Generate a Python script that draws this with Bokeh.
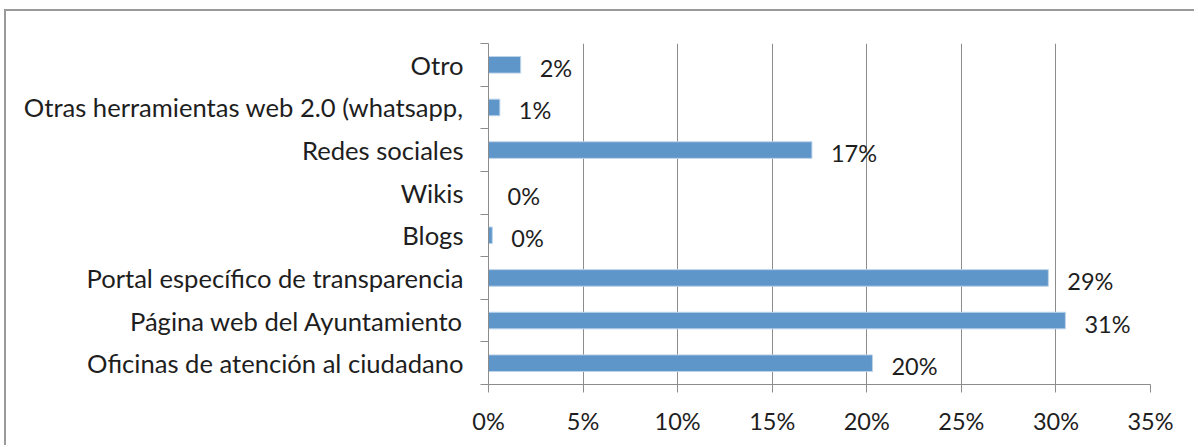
from bokeh.plotting import figure
from bokeh.models import Range1d, FixedTicker, PrintfTickFormatter
from bokeh.core.properties import value
from bokeh.embed import file_html
from bokeh.resources import INLINE

categories = [
    "Oficinas de atención al ciudadano",
    "Página web del Ayuntamiento",
    "Portal específico de transparencia",
    "Blogs",
    "Wikis",
    "Redes sociales",
    "Otras herramientas web 2.0 (whatsapp,",
    "Otro",
]
values = [20.3, 30.5, 29.6, 0.2, 0.0, 17.1, 0.6, 1.7]
labels = ["20%", "31%", "29%", "0%", "0%", "17%", "1%", "2%"]
x_ticks = [0, 5, 10, 15, 20, 25, 30, 35]

FONT = "Lato"
FS_CAT = "25.6px"
FS_NUM = "23.5px"
TXT = "#1e1e1e"
GRID = "#8c8c8c"

centers = [i + 0.5 for i in range(len(categories))]
bounds = list(range(len(categories) + 1))

p = figure(
    width=1190, height=436,
    x_range=Range1d(0, 35), y_range=Range1d(0, len(categories)),
    output_backend="svg", toolbar_location=None,
    min_border_left=482, min_border_right=46,
    min_border_top=32, min_border_bottom=63,
)
p.styles = {
    "border-top": "2px solid #9a9a9a",
    "border-left": "2px solid #9a9a9a",
    "margin-left": "4px",
    "margin-top": "9px",
}
p.outline_line_color = None
p.background_fill_color = "white"
p.border_fill_color = "white"

p.hbar(y=centers, right=values, left=0, height=0.39,
       fill_color="#5f96ca", line_color="#bcd3ea", line_width=1)
p.text(x=values, y=centers, text=labels, x_offset=19, y_offset=3,
       text_baseline="middle", text_align="left",
       text_font=value(FONT), text_font_size=FS_NUM, text_color=TXT)

# x axis
p.xaxis.ticker = FixedTicker(ticks=x_ticks)
p.xaxis.formatter = PrintfTickFormatter(format="%d%%")
p.xaxis.axis_line_color = GRID
p.xaxis.major_tick_line_color = GRID
p.xaxis.major_tick_out = 8
p.xaxis.major_tick_in = 0
p.xaxis.minor_tick_line_color = None
p.xaxis.major_label_standoff = 14
p.xaxis.major_label_text_font = FONT
p.xaxis.major_label_text_font_size = FS_NUM
p.xaxis.major_label_text_color = TXT

# y axis: labels at centres, tick marks at category boundaries
p.yaxis.ticker = FixedTicker(ticks=centers, minor_ticks=bounds)
p.yaxis.major_label_overrides = {c: name for c, name in zip(centers, categories)}
p.yaxis.axis_line_color = GRID
p.yaxis.major_tick_line_color = None
p.yaxis.major_tick_out = 0
p.yaxis.major_tick_in = 0
p.yaxis.minor_tick_line_color = GRID
p.yaxis.minor_tick_out = 8
p.yaxis.minor_tick_in = 0
p.yaxis.major_label_standoff = 17
p.yaxis.major_label_text_font = FONT
p.yaxis.major_label_text_font_size = FS_CAT
p.yaxis.major_label_text_color = TXT

p.xgrid.ticker = FixedTicker(ticks=x_ticks)
p.xgrid.grid_line_color = GRID
p.xgrid.grid_line_width = 1
p.ygrid.grid_line_color = None

open("out.html", "w").write(file_html(p, INLINE))
